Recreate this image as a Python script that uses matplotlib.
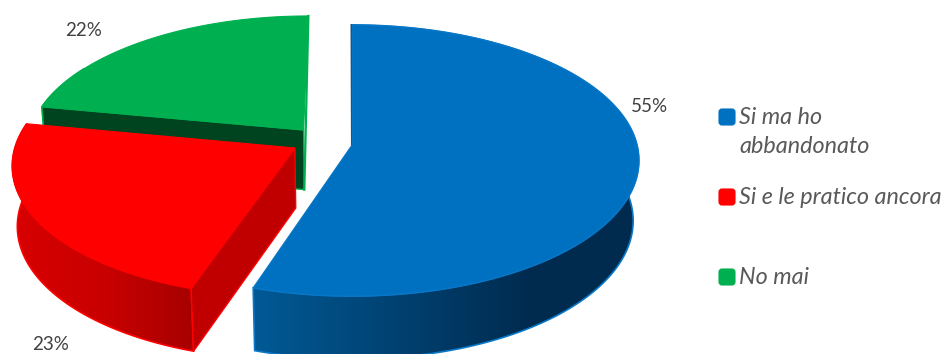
import numpy as np
import matplotlib
matplotlib.use("Agg")
import matplotlib.pyplot as plt
from matplotlib.colors import LinearSegmentedColormap
from matplotlib.patches import FancyBboxPatch, Polygon

labels = ["Si ma ho\nabbandonato", "Si e le pratico ancora", "No mai"]
shares = [55, 23, 22]

top_colors = ["#0070c0", "#ff0000", "#00b050"]
edge_colors = ["#0a78c8", "#ff0000", "#00b050"]
cut_colors = ["#003a66", "#c00000", "#00441f"]
# wall shading, left to right across each wedge
wall_stops = [[(0, "#005a96"), (0.72, "#002b4f"), (1, "#002b4f")],
              [(0, "#d80000"), (0.5, "#c80000"), (0.95, "#a80000"), (1, "#a80000")],
              [(0, "#006a30"), (1, "#006a30")]]
wall_spans = [(251, 640), (13, 200), (36, 312)]
# the green wall is hidden behind the red wedge past this sweep
wall_sweep = [360, 360, 20]

# exploded offset and radius of each wedge on the disk plane
offsets = [(0.0, 0.0), (-0.2, -0.022), (-0.172, 0.114)]
radii = [1.0, 0.98, 0.97]

CX, CY = 352, 145
A, B, K = 285, 133.8, 0.1144


def project(x, y, bottom=False):
    d = 1 + K * y
    sx = A * x / d
    sy = -B * y / d
    if bottom:
        sx = sx * np.where(sx < 0, 0.985, 0.98)
        sy = sy * 1.02 + 60
    return CX + sx, CY + sy


def arc(start, end, i, bottom=False):
    t = np.radians(np.linspace(start, end, 200))
    off = offsets[i]
    r = radii[i]
    return project(off[0] + r * np.sin(t), off[1] + r * np.cos(t), bottom)


fig = plt.figure(figsize=(9.43, 3.54), dpi=100)
ax = fig.add_axes([0, 0, 1, 1])
ax.set_xlim(0, 943)
ax.set_ylim(354, 0)
ax.axis("off")


def draw_slice(i, start, end, z):
    off = offsets[i]
    col = edge_colors[i]
    apex_t = project(off[0], off[1])
    apex_b = project(off[0], off[1], True)
    tx, ty = arc(start, end, i)
    bx, by = arc(start, end, i, True)

    # outer wall with a horizontal gradient
    wx, wy = arc(start, min(end, start + wall_sweep[i]), i)
    wbx, wby = arc(start, min(end, start + wall_sweep[i]), i, True)
    wall = Polygon(np.r_[np.c_[wx, wy], np.c_[wbx, wby][::-1]], closed=True,
                   fc="none", ec=col, lw=1.2, zorder=z + 0.1)
    ax.add_patch(wall)
    cmap = LinearSegmentedColormap.from_list("wall", wall_stops[i])
    x0, x1 = wall_spans[i]
    grad = np.linspace(0, 1, 256).reshape(1, -1)
    im = ax.imshow(grad, cmap=cmap, extent=(x0, x1, 354, 0), aspect="auto", zorder=z)
    im.set_clip_path(wall)

    if i == 0:
        # only a sliver of the 12 o'clock cut shows
        ax.plot([tx[0] - 0.6, apex_t[0] - 0.2], [ty[0], apex_t[1]], color=cut_colors[i], lw=1.2, zorder=z + 0.2)
    else:
        # the cut face turned towards the viewer
        pts = [apex_t, (tx[0], ty[0]), (bx[0], by[0]), apex_b]
        ax.add_patch(Polygon(pts, closed=True, fc=cut_colors[i], ec=col, lw=1.0, zorder=z + 0.2))
    if i == 2:
        ax.plot([tx[-1], apex_b[0]], [ty[-1], apex_b[1]], color=col, lw=1.6, zorder=z + 0.2)

    # top surface
    top = np.r_[[apex_t], np.c_[tx, ty]]
    ax.add_patch(Polygon(top, closed=True, fc=top_colors[i], ec=col, lw=0.8, zorder=z + 0.3))


starts = np.cumsum([0] + shares[:-1]) * 3.6
ends = np.cumsum(shares) * 3.6
# far wedges go first
for z, i in enumerate([2, 1, 0]):
    draw_slice(i, starts[i], ends[i], z + 1)

ax.set_xlim(0, 943)
ax.set_ylim(354, 0)

font = "Lato"
txt_col = "#404040"
label_pos = [(649, 106), (51, 345), (84, 31)]
for share, (lx, ly) in zip(shares, label_pos):
    ax.text(lx, ly, f"{share}%", ha="center", va="center", fontsize=13.5, family=font,
            color=txt_col, zorder=20)

# legend entries
legend_y = [117, 197, 277]
for name, col, y in zip(labels, top_colors, legend_y):
    ax.add_patch(FancyBboxPatch((719, y - 8), 16, 16, boxstyle="round,pad=0,rounding_size=3",
                                fc=col, ec=col, lw=0.8, zorder=20))
    ax.text(739, y if "\n" not in name else y + 15, name, ha="left", va="center", style="italic",
            family=font, fontsize=16.8, color="#595959", linespacing=1.42, zorder=20)

fig.savefig("out.png", dpi=100)
